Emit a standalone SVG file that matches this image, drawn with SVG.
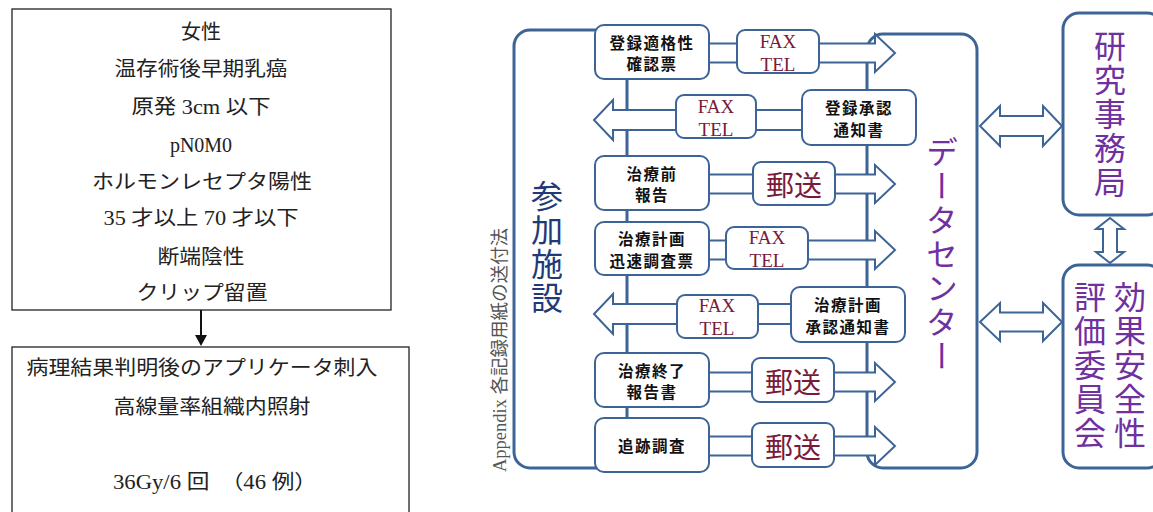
<svg xmlns="http://www.w3.org/2000/svg" width="1153" height="512" viewBox="0 0 1153 512">
<style>
.lbox{fill:#fff;stroke:#222;stroke-width:1.3}
.ltxt{font-family:"Liberation Serif","Noto Sans CJK JP",serif;font-size:20px;fill:#222;text-anchor:middle;dominant-baseline:central}
.big{fill:#fff;stroke:#3d6496;stroke-width:3}
.form{fill:#fff;stroke:#3d6496;stroke-width:2}
.arr{fill:#fff;stroke:#3d6496;stroke-width:2;stroke-linejoin:miter}
.ftxt{font-family:"Noto Sans CJK JP",sans-serif;font-weight:bold;font-size:15.5px;letter-spacing:1.5px;fill:#111;text-anchor:middle;dominant-baseline:central}
.fax{font-family:"Liberation Serif",serif;font-size:19px;fill:#7a1a3a;text-anchor:middle;dominant-baseline:central}
.post{font-family:"Noto Sans CJK JP",sans-serif;font-size:28px;fill:#7a1a3a;text-anchor:middle;dominant-baseline:central}
.vt{font-family:"Noto Sans CJK JP",sans-serif;font-size:32px;writing-mode:vertical-rl;text-orientation:upright;letter-spacing:2px}
</style>

<!-- left flow -->
<g id="criteria">
<rect class="lbox" x="12" y="9" width="379" height="301"/>
<text class="ltxt" x="201" y="32">女性</text>
<text class="ltxt" x="201" y="69" textLength="173" lengthAdjust="spacingAndGlyphs">温存術後早期乳癌</text>
<text class="ltxt" x="201" y="107" textLength="139" lengthAdjust="spacingAndGlyphs">原発 3cm 以下</text>
<text class="ltxt" x="201" y="145">pN0M0</text>
<text class="ltxt" x="202" y="182" textLength="220" lengthAdjust="spacingAndGlyphs">ホルモンレセプタ陽性</text>
<text class="ltxt" x="201" y="218" textLength="195" lengthAdjust="spacingAndGlyphs">35 才以上 70 才以下</text>
<text class="ltxt" x="201" y="257" textLength="87" lengthAdjust="spacingAndGlyphs">断端陰性</text>
<text class="ltxt" x="202" y="293" textLength="131" lengthAdjust="spacingAndGlyphs">クリップ留置</text>
</g>
<g id="treatment">
<rect class="lbox" x="12" y="347" width="397" height="200"/>
<text class="ltxt" x="202" y="368" textLength="351" lengthAdjust="spacingAndGlyphs">病理結果判明後のアプリケータ刺入</text>
<text class="ltxt" x="212" y="407" textLength="197" lengthAdjust="spacingAndGlyphs">高線量率組織内照射</text>
<text class="ltxt" x="215" y="482" textLength="204" lengthAdjust="spacingAndGlyphs">36Gy/6 回　（46 例）</text>
</g>
<g id="left-connector">
<line x1="201" y1="310" x2="201" y2="337" stroke="#111" stroke-width="2"/>
<polygon points="195,335 207,335 201,346" fill="#111"/>
</g>

<!-- containers -->
<g id="facility">
<rect class="big" x="514" y="30" width="113" height="438" rx="16"/>
<text class="vt" x="547" y="180" fill="#1f3a78">参加施設</text>
</g>
<g id="datacenter">
<rect class="big" x="867" y="34" width="110" height="434" rx="16"/>
<text class="vt" x="942" y="136" fill="#7030a0">データセンター</text>
</g>
<g id="appendix">
<text transform="translate(500,472) rotate(-90)" x="0" y="0" font-family="Liberation Serif, Noto Sans CJK JP, serif" font-size="18" fill="#555" dominant-baseline="central" textLength="244" lengthAdjust="spacingAndGlyphs">Appendix  各記録用紙の送付法</text>
</g>

<!-- connectors -->
<g id="connectors">
<polygon class="arr" points="705,43.5 875,43.5 875,34 895,53 875,72 875,62.5 705,62.5"/>
<polygon class="arr" points="806,110 613,110 613,100 594,120 613,140 613,130 806,130"/>
<polygon class="arr" points="705,174.5 875,174.5 875,165 895,184 875,203 875,193.5 705,193.5"/>
<polygon class="arr" points="705,240.5 875,240.5 875,231 895,250 875,269 875,259.5 705,259.5"/>
<polygon class="arr" points="795,304 613,304 613,294 594,314 613,334 613,324 795,324"/>
<polygon class="arr" points="705,372.5 875,372.5 875,363 895,382 875,401 875,391.5 705,391.5"/>
<polygon class="arr" points="705,436.5 875,436.5 875,427 895,446 875,465 875,455.5 705,455.5"/>
<polygon class="arr" points="980,126 1000,106 1000,116 1043,116 1043,106 1062,126 1043,146 1043,136 1000,136 1000,146"/>
<polygon class="arr" points="980,322 1000,303 1000,312.5 1043,312.5 1043,303 1062,322 1043,341 1043,331.5 1000,331.5 1000,341"/>
<polygon class="arr" points="1110,218 1124,229 1117,229 1117,252 1124,252 1110,263 1096,252 1103,252 1103,229 1096,229"/>
</g>

<!-- form boxes -->
<g id="f-eligibility"><rect class="form" x="595" y="25" width="114" height="54" rx="9"/>
<text class="ftxt" x="652" y="42">登録適格性</text><text class="ftxt" x="652" y="63">確認票</text></g>
<g id="f-pretreat"><rect class="form" x="595" y="156" width="114" height="54" rx="9"/>
<text class="ftxt" x="652" y="172.5">治療前</text><text class="ftxt" x="652" y="194">報告</text></g>
<g id="f-plan"><rect class="form" x="595" y="222" width="114" height="53" rx="9"/>
<text class="ftxt" x="652" y="238">治療計画</text><text class="ftxt" x="652" y="259.5">迅速調査票</text></g>
<g id="f-end"><rect class="form" x="595" y="353" width="114" height="54" rx="9"/>
<text class="ftxt" x="652" y="369.5">治療終了</text><text class="ftxt" x="652" y="391">報告書</text></g>
<g id="f-follow"><rect class="form" x="595" y="418" width="114" height="54" rx="9"/>
<text class="ftxt" x="652" y="445">追跡調査</text></g>
<g id="f-regapproval"><rect class="form" x="802" y="90" width="114" height="55" rx="9"/>
<text class="ftxt" x="859" y="107">登録承認</text><text class="ftxt" x="859" y="128.5">通知書</text></g>
<g id="f-planapproval"><rect class="form" x="791" y="287" width="114" height="55" rx="9"/>
<text class="ftxt" x="848" y="304">治療計画</text><text class="ftxt" x="848" y="325.5">承認通知書</text></g>

<!-- transmission methods -->
<g id="m1"><rect class="form" x="737" y="30" width="82" height="43" rx="8"/>
<text class="fax" x="778" y="41.5">FAX</text><text class="fax" x="778" y="64">TEL</text></g>
<g id="m2"><rect class="form" x="676" y="95" width="80" height="43" rx="8"/>
<text class="fax" x="716" y="106.5">FAX</text><text class="fax" x="716" y="129">TEL</text></g>
<g id="m3"><rect class="form" x="753" y="162" width="82" height="43" rx="8"/>
<text class="post" x="794" y="184">郵送</text></g>
<g id="m4"><rect class="form" x="726" y="227" width="82" height="42" rx="8"/>
<text class="fax" x="767" y="237.5">FAX</text><text class="fax" x="767" y="260">TEL</text></g>
<g id="m5"><rect class="form" x="677" y="295" width="81" height="43" rx="8"/>
<text class="fax" x="717" y="305.5">FAX</text><text class="fax" x="717" y="328">TEL</text></g>
<g id="m6"><rect class="form" x="752" y="358" width="82" height="44" rx="8"/>
<text class="post" x="793" y="381">郵送</text></g>
<g id="m7"><rect class="form" x="752" y="423" width="82" height="44" rx="8"/>
<text class="post" x="793" y="446">郵送</text></g>

<!-- right side -->
<g id="office">
<rect class="big" x="1063" y="13" width="100" height="202" rx="16"/>
<text class="vt" x="1110" y="30" fill="#7030a0">研究事務局</text>
</g>
<g id="committee">
<rect class="big" x="1063" y="265" width="100" height="203" rx="16"/>
<text class="vt" x="1130" y="281" fill="#7030a0">効果安全性</text>
<text class="vt" x="1090" y="281" fill="#7030a0">評価委員会</text>
</g>
</svg>
